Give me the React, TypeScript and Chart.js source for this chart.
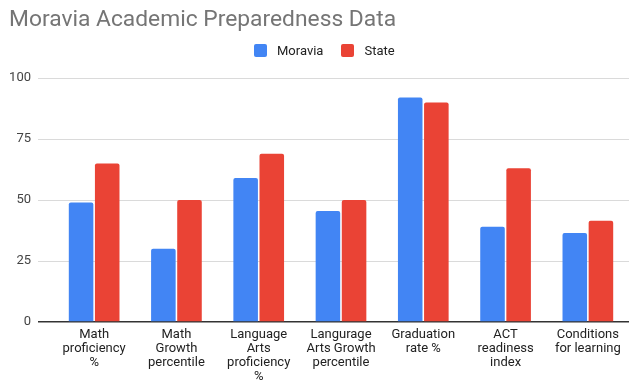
import React, { useEffect, useRef } from "react";
import { Chart, registerables } from "chart.js";

Chart.register(...registerables);

const categories: string[][] = [
  ["Math", "proficiency", "%"],
  ["Math", "Growth", "percentile"],
  ["Language", "Arts", "proficiency", "%"],
  ["Langurage", "Arts Growth", "percentile"],
  ["Graduation", "rate %"],
  ["ACT", "readiness", "index"],
  ["Conditions", "for learning"],
];
const moraviaValues = [49, 30, 59, 45.5, 92, 39, 36.5];
const stateValues = [65, 50, 69, 50, 90, 63, 41.5];
const yTicks = [0, 25, 50, 75, 100];

const BLUE = "#4285F4";
const RED = "#EA4335";
const FONT = "Roboto, 'Liberation Sans', Arial, sans-serif";

export default function App() {
  const canvasRef = useRef<HTMLCanvasElement | null>(null);

  useEffect(() => {
    const canvas = canvasRef.current;
    if (!canvas) return;
    const barStyle = {
      borderRadius: { topLeft: 2, topRight: 2 },
      borderSkipped: "bottom" as const,
      categoryPercentage: 0.635,
      barPercentage: 0.94,
    };
    const chart = new Chart(canvas, {
      type: "bar",
      data: {
        labels: categories,
        datasets: [
          { label: "Moravia", data: moraviaValues, backgroundColor: BLUE, ...barStyle },
          { label: "State", data: stateValues, backgroundColor: RED, ...barStyle },
        ],
      },
      options: {
        animation: false,
        responsive: true,
        maintainAspectRatio: false,
        layout: { padding: { top: 78, left: 10, right: 8, bottom: 0 } },
        plugins: {
          legend: { display: false },
          title: { display: false },
          tooltip: { enabled: false },
        },
        scales: {
          x: {
            afterFit: (axis: any) => {
              axis.height = 64;
            },
            grid: { display: false, drawTicks: false },
            border: { display: false },
            ticks: {
              color: "#222222",
              font: { family: FONT, size: 13, lineHeight: "14px" },
              padding: 6,
              maxRotation: 0,
              autoSkip: false,
            },
          },
          y: {
            min: 0,
            max: 100,
            afterBuildTicks: (axis: any) => {
              axis.ticks = yTicks.map((v) => ({ value: v }));
            },
            afterFit: (axis: any) => {
              axis.width = 43;
            },
            border: { display: false },
            grid: {
              color: (ctx: any) => (ctx.tick && ctx.tick.value === 0 ? "#333333" : "#dadada"),
              lineWidth: (ctx: any) => (ctx.tick && ctx.tick.value === 0 ? 1.5 : 1),
              drawTicks: true,
              tickLength: 15,
            },
            ticks: {
              color: "#444444",
              font: { family: FONT, size: 13 },
              padding: 7,
            },
          },
        },
      },
    });
    return () => chart.destroy();
  }, []);

  return (
    <div
      style={{
        position: "absolute",
        left: 0,
        top: 0,
        width: 637,
        height: 381,
        overflow: "hidden",
        background: "#ffffff",
        fontFamily: FONT,
      }}
    >
      <div style={{ position: "absolute", left: 0, top: 0, width: 637, height: 386 }}>
        <canvas ref={canvasRef} />
      </div>
      <div
        style={{
          position: "absolute",
          left: 9,
          top: 5,
          fontSize: 22.8,
          lineHeight: "27px",
          color: "#757575",
          whiteSpace: "nowrap",
        }}
      >
        Moravia Academic Preparedness Data
      </div>
      <div
        style={{
          position: "absolute",
          left: 254,
          top: 43,
          display: "flex",
          alignItems: "center",
          height: 15,
          fontSize: 13,
          lineHeight: "15px",
          color: "#222222",
          whiteSpace: "nowrap",
        }}
      >
        <span style={{ width: 13, height: 13, borderRadius: 2, background: BLUE, display: "inline-block" }} />
        <span style={{ marginLeft: 10 }}>Moravia</span>
        <span
          style={{ width: 13, height: 13, borderRadius: 2, background: RED, display: "inline-block", marginLeft: 18 }}
        />
        <span style={{ marginLeft: 10 }}>State</span>
      </div>
    </div>
  );
}
